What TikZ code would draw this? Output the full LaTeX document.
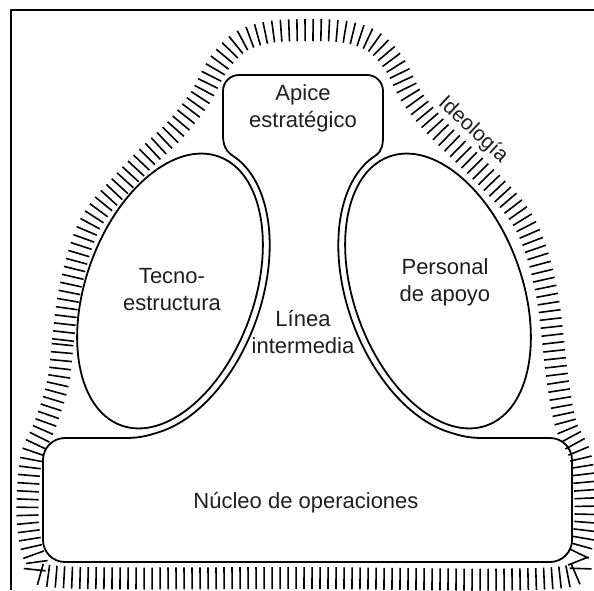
\documentclass[tikz,border=0pt]{standalone}
\usepackage{fontspec}
\setmainfont{Liberation Sans}
\usetikzlibrary{decorations.pathreplacing}
\begin{document}
\begin{tikzpicture}[x=1pt,y=1pt,line join=round,line cap=round,
  outl/.style={line width=1.8pt},
  lbl/.style={font=\fontsize{22}{27}\selectfont,align=center,inner sep=0pt,text=black!88},
  ideo/.style={line width=1.6pt,line cap=butt,decorate,decoration={ticks,segment length=8pt,amplitude=11pt}}]
\useasboundingbox (0,0) rectangle (594,590);
\fill[white] (0,0) rectangle (594,590);
% frame
\draw[line width=2.4pt,line cap=butt] (11,0) -- (11,580) -- (594,580);
% ideology band
\draw[ideo] plot[smooth cycle,tension=0.55] coordinates {
 (58,207) (63,250) (68,290) (77,330) (88,362) (102,384) (120,404) (146,432) (175,460)
 (200,492) (218,525) (240,548) (270,558) (308,560) (346,558) (374,548) (395,525)
 (411,494) (434,465) (462,437) (491,408) (512,385) (527,362) (539,330) (548,290)
 (553,250) (558,207) (566,165) (580,135) (585,100) (585,65) (578,35) (555,12)
 (300,12) (60,13) (36,30) (28,65) (28,100) (32,135) (45,165)};
% operating core
\draw[outl,rounded corners=22pt] (125,152) -- (43,152) -- (43,28) -- (572,28) -- (572,152) -- (483,152);
% strategic apex
\draw[outl,rounded corners=16pt] (223,462) -- (223,515) -- (383,515) -- (383,462);
% middle line
\draw[outl] (223,466) -- (223,455) to[out=-90,in=147] (232.7,434.3)
  -- plot[domain=-8:-155,samples=70,variable=\t]
   ({170+51.3*cos(\t)-85.5*sin(\t)},{299+141*cos(\t)+31.1*sin(\t)})
  to[out=198,in=0] (125,152);
\draw[outl] (383,466) -- (383,455) to[out=-90,in=33] (375.3,434.3)
  -- plot[domain=-8:-155,samples=70,variable=\t]
   ({438-51.3*cos(\t)+85.5*sin(\t)},{299+141*cos(\t)+31.1*sin(\t)})
  to[out=-18,in=180] (483,152);
% technostructure and support staff
\draw[outl,rotate around={70:(170,299)}] (170,299) ellipse [x radius=143,y radius=84];
\draw[outl,rotate around={110:(438,299)}] (438,299) ellipse [x radius=143,y radius=84];
% labels
\node[lbl] (apex) at (303,482) {Apice\\estratégico};
\node[lbl] (tecno) at (172,300) {Tecno-\\estructura};
\node[lbl] (apoyo) at (445,308) {Personal\\de apoyo};
\node[lbl] (linea) at (303,258) {Línea\\intermedia};
\node[lbl] (nucleo) at (306,87) {Núcleo de operaciones};
\node[lbl,font=\fontsize{21}{24}\selectfont,rotate=-43] (ideol) at (473,460) {Ideología};
\end{tikzpicture}
\end{document}
